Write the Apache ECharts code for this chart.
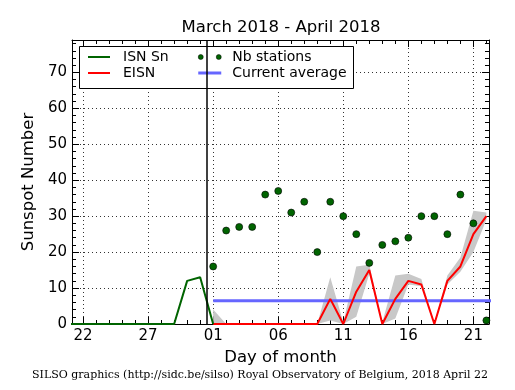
<!DOCTYPE html>
<html>
<head>
<meta charset="utf-8">
<script src="https://cdn.jsdelivr.net/npm/echarts@6/dist/echarts.min.js"></script>
<style>html,body{margin:0;padding:0;background:#fff}#chart{width:515px;height:390px}</style>
</head>
<body>
<div id="chart"></div>
<script>
// x values are day offsets from 2018-03-22 (0 = Mar 22, 10 = Apr 1)
const xTickValues = [0, 5, 10, 15, 20, 25, 30];
const xTickLabels = ['22', '27', '01', '06', '11', '16', '21'];
const yTickValues = [0, 10, 20, 30, 40, 50, 60, 70];
const xMin = -0.85, xMax = 31.2, yMin = 0, yMax = 79;

const isnDays   = [-1, 0, 1, 2, 3, 4, 5, 6, 7, 8, 9, 10];
const isnValues = [0, 0, 0, 0, 0, 0, 0, 0, 0, 12, 13, 0];

const eisnDays   = [10, 11, 12, 13, 14, 15, 16, 17, 18, 19, 20, 21, 22, 23, 24, 25, 26, 27, 28, 29, 30, 31];
const eisnValues = [0, 0, 0, 0, 0, 0, 0, 0, 0, 7, 0, 9, 15, 0, 7, 12, 11, 0, 12, 16, 25, 30];
const bandLow    = [0, 0, 0, 0, 0, 0, 0, 0, 0, 1, 0, 2, 14, 0, 1.5, 11, 10.5, 0, 11, 14.5, 20, 29];
const bandHigh   = [4, 0, 0, 0, 0, 0, 0, 0, 0, 13, 0.5, 16, 16.5, 0.5, 13.5, 14, 12.5, 0, 13.5, 18.5, 31.5, 31];

const stationDays   = [10, 11, 12, 13, 14, 15, 16, 17, 18, 19, 20, 21, 22, 23, 24, 25, 26, 27, 28, 29, 30, 31];
const stationValues = [16, 26, 27, 27, 36, 37, 31, 34, 20, 34, 30, 25, 17, 22, 23, 24, 30, 30, 25, 36, 28, 1];

const currentAverage = 6.5;
const averageDays = [10, 32];
const monthBoundary = 9.5;

const xMinorTicks = [];
for (let d = 0; d <= 31; d++) xMinorTicks.push(d);
const yMinorTicks = [];
for (let v = 0; v <= 78; v += 2) yMinorTicks.push(v);

const FONT = 'DejaVu Sans';
const pair = (xs, ys) => xs.map((x, i) => [x, ys[i]]);

function axis(kind, position, ticks, len, opts) {
  const a = {
    type: 'value', position: position,
    min: kind === 'x' ? xMin : yMin, max: kind === 'x' ? xMax : yMax,
    axisLine: { show: !!opts.line, onZero: false, lineStyle: { color: '#000', width: 1 } },
    axisTick: { show: true, inside: true, length: len, customValues: ticks, lineStyle: { color: '#000', width: 1 } },
    axisLabel: { show: false },
    splitLine: { show: false }
  };
  if (opts.labels) {
    a.axisLabel = {
      show: true, customValues: ticks, color: '#000', fontFamily: FONT, fontSize: 15, margin: 5,
      formatter: kind === 'x' ? (v) => xTickLabels[xTickValues.indexOf(Math.round(v))] || '' : (v) => String(v)
    };
  }
  if (opts.split) {
    a.splitLine = { show: true, lineStyle: { color: '#333', width: 1, type: [1, 3] } };
  }
  if (opts.name) Object.assign(a, opts.name);
  return a;
}

const option = {
  animation: false,
  backgroundColor: '#fff',
  textStyle: { fontFamily: FONT },
  title: [
    { text: 'March 2018 - April 2018', left: 281, top: 19, textAlign: 'center', padding: 0,
      textStyle: { fontFamily: FONT, fontSize: 16.5, fontWeight: 'normal', color: '#000' } },
    { text: 'SILSO graphics (http://sidc.be/silso) Royal Observatory of Belgium, 2018 April 22',
      left: 260, top: 370, textAlign: 'center', padding: 0,
      textStyle: { fontFamily: 'DejaVu Serif', fontSize: 11, fontWeight: 'normal', color: '#000' } }
  ],
  grid: { left: 72, right: 26, top: 40, bottom: 66, containLabel: false },
  xAxis: [
    axis('x', 'bottom', xTickValues, 7, { line: true, labels: true, split: true,
      name: { name: 'Day of month', nameLocation: 'middle', nameGap: 24,
              nameTextStyle: { fontFamily: FONT, fontSize: 16.5, color: '#000' } } }),
    axis('x', 'bottom', xMinorTicks, 4, {}),
    axis('x', 'top', xTickValues, 7, { line: true }),
    axis('x', 'top', xMinorTicks, 4, {})
  ],
  yAxis: [
    axis('y', 'left', yTickValues, 7, { line: true, labels: true, split: true,
      name: { name: 'Sunspot Number', nameLocation: 'middle', nameGap: 33, nameRotate: 90,
              nameTextStyle: { fontFamily: FONT, fontSize: 16.5, color: '#000' } } }),
    axis('y', 'left', yMinorTicks, 4, {}),
    axis('y', 'right', yTickValues, 7, { line: true }),
    axis('y', 'right', yMinorTicks, 4, {})
  ],
  legend: [
    { orient: 'vertical', left: 88, top: 50, padding: 0, itemGap: 2, itemWidth: 22, itemHeight: 14,
      data: [
        { name: 'ISN Sn', icon: 'path://M0,0H22V2H0Z' },
        { name: 'EISN', icon: 'path://M0,0H22V2H0Z' }
      ],
      textStyle: { fontFamily: FONT, fontSize: 14, color: '#000', lineHeight: 14, padding: [0, 0, 0, 8] } },
    { orient: 'vertical', left: 198, top: 50, padding: 0, itemGap: 2, itemWidth: 23, itemHeight: 14,
      data: [
        { name: 'Nb stations', icon: 'path://M0,2.5a2.5,2.5 0 1,0 5,0a2.5,2.5 0 1,0 -5,0M18,2.5a2.5,2.5 0 1,0 5,0a2.5,2.5 0 1,0 -5,0',
          itemStyle: { color: '#006400', borderColor: '#000', borderWidth: 0.5, opacity: 1 } },
        { name: 'Current average', icon: 'path://M0,0H23V3H0Z' }
      ],
      textStyle: { fontFamily: FONT, fontSize: 14, color: '#000', lineHeight: 14, padding: [0, 0, 0, 6] } }
  ],
  graphic: [
    { type: 'rect', z: 3, silent: true,
      shape: { x: 79.5, y: 46.5, width: 274, height: 42 },
      style: { fill: '#fff', stroke: '#000', lineWidth: 1 } }
  ],
  series: [
    { name: 'band', type: 'custom', clip: true, silent: true, z: 1,
      data: eisnDays.map((d, i) => [d, bandLow[i], bandHigh[i]]),
      encode: { x: 0, y: [1, 2] },
      renderItem: function (params, api) {
        if (params.dataIndex !== 0) return null;
        const pts = [];
        for (let i = 0; i < eisnDays.length; i++) pts.push(api.coord([eisnDays[i], bandHigh[i]]));
        for (let i = eisnDays.length - 1; i >= 0; i--) pts.push(api.coord([eisnDays[i], bandLow[i]]));
        return { type: 'polygon', shape: { points: pts }, style: { fill: '#c8c8c8', stroke: null } };
      } },
    { name: 'Current average', type: 'line', data: averageDays.map(d => [d, currentAverage]),
      symbol: 'none', color: '#6666ff', lineStyle: { color: '#6666ff', width: 3 }, z: 2 },
    { name: 'EISN', type: 'line', data: pair(eisnDays, eisnValues),
      symbol: 'none', color: '#ff0000', lineStyle: { color: '#ff0000', width: 2 }, z: 3 },
    { name: 'ISN Sn', type: 'line', data: pair(isnDays, isnValues),
      symbol: 'none', color: '#006400', lineStyle: { color: '#006400', width: 2 }, z: 3,
      markLine: { silent: true, symbol: 'none', label: { show: false },
        lineStyle: { color: '#000', width: 1.5, type: 'solid' },
        data: [{ xAxis: monthBoundary }] } },
    { name: 'Nb stations', type: 'scatter', data: pair(stationDays, stationValues),
      symbolSize: 7, itemStyle: { color: '#006400', borderColor: '#000', borderWidth: 0.6, opacity: 1 }, z: 4 }
  ]
};

const chart = echarts.init(document.getElementById('chart'), null, { renderer: 'canvas' });
chart.setOption(option);
</script>
</body>
</html>
